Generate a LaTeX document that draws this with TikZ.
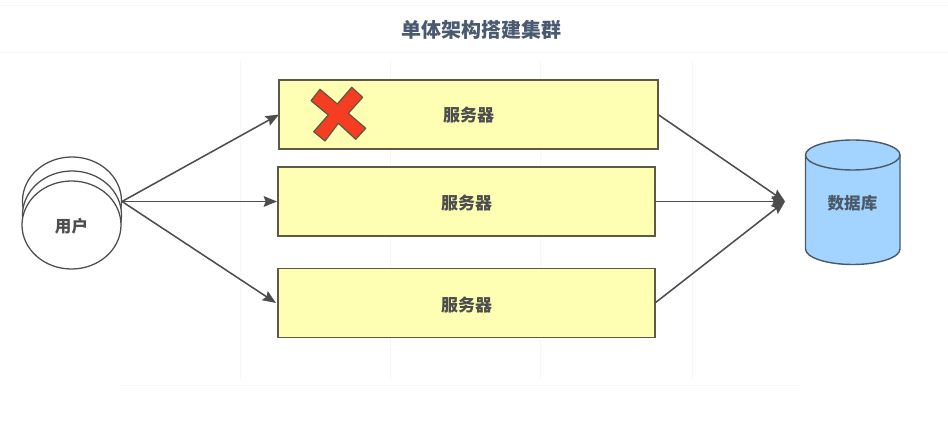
\documentclass[tikz,border=0pt]{standalone}
\usepackage{fontspec}
\setmainfont{Noto Sans CJK SC}
\usetikzlibrary{arrows.meta,shapes.geometric}
\definecolor{edgec}{HTML}{4D4D4D}
\definecolor{boxc}{HTML}{FFFFB3}
\definecolor{boxl}{HTML}{5C5A45}
\definecolor{dbc}{HTML}{A3D3FF}
\definecolor{dbl}{HTML}{4A5A68}
\definecolor{redc}{HTML}{F53D22}
\definecolor{titlec}{HTML}{4A5A70}
\definecolor{faint}{HTML}{F7F7F7}
\tikzset{
  px/.style={x=0.75pt,y=-0.75pt},
  srv/.style={draw=boxl,fill=boxc,line width=1.1pt,minimum width=282.75pt,minimum height=51.75pt,inner sep=0pt,outer sep=0pt},
  srvtxt/.style={text=edgec,inner sep=0pt,font=\fontsize{12.75}{14}\selectfont\bfseries},
  conn/.style={draw=edgec,line width=1.15pt,-{Stealth[length=10pt,width=8pt,inset=1.5pt]}},
  usr/.style={draw=edgec,fill=white,line width=0.95pt,shape=ellipse,minimum width=74.25pt,minimum height=66pt,inner sep=0pt,outer sep=0pt},
  lbl/.style={font=\fontsize{12.4}{14}\selectfont\bfseries,inner sep=0pt},
  gridl/.style={draw=faint,line width=0.5pt}
}
\begin{document}
\begin{tikzpicture}[px]
\useasboundingbox (0,0) rectangle (948,423);
\fill[white] (0,0) rectangle (948,423);
\draw[gridl] (0,5) -- (948,5);
\draw[gridl] (0,52) -- (948,52);
\draw[gridl] (120,385) -- (800,385);
\draw[gridl] (240,60) -- (240,380);
\draw[gridl] (390,60) -- (390,380);
\draw[gridl] (540,60) -- (540,380);
\draw[gridl] (692,60) -- (692,380);
\node[text=titlec,font=\fontsize{15}{16}\selectfont\bfseries,inner sep=0pt] (title) at (481,29.5) {单体架构搭建集群};
% user stack
\node[usr] (u1) at (72,201) {};
\node[usr] (u2) at (72,215) {};
\node[usr] (u3) at (71.5,225) {};
\node[lbl,text=edgec] (utxt) at (71.5,226) {用户};
\coordinate (uout) at (122,201.5);
% servers
\node[srv,minimum width=284.25pt] (s1) at (468.5,114.5) {};
\node[srv] (s2) at (466.5,201.5) {};
\node[srv] (s3) at (466.5,303) {};
\node[srvtxt] (t1) at ([yshift=-0.75pt]s1.center) {服务器};
\node[srvtxt] (t2) at ([yshift=-1.5pt]s2.center) {服务器};
\node[srvtxt] (t3) at ([yshift=-1.5pt]s3.center) {服务器};
% cross
\draw[boxl,fill=redc,line width=0.9pt,line join=round]
  (320,89.3) -- (337.3,104) -- (351.7,87.3) -- (362.7,97.3) -- (348.3,113.3)
  -- (365.7,128.3) -- (355.7,139.3) -- (338.3,123.3) -- (325,141) -- (313.7,131.7)
  -- (328.3,115) -- (311,100.7) -- cycle;
% database
\draw[dbl,fill=dbc,line width=1.05pt] (805.5,155) -- (805.5,249) arc[start angle=180,end angle=0,x radius=47.25,y radius=15.5] -- (900,155);
\draw[dbl,fill=dbc,line width=1.05pt] (852.75,155) ellipse [x radius=47.25,y radius=15];
\node[lbl,text=dbl] (db) at (852.5,203) {数据库};
\coordinate (dbin) at (785,201.5);
% connectors
\draw[conn] (uout) -- (s1.west);
\draw[conn] (uout) -- ([xshift=-0.75pt]s2.west);
\draw[conn] (uout) -- ([xshift=-1.5pt]s3.west);
\draw[conn] (s1.east) -- (dbin);
\draw[conn] (s2.east) -- (dbin);
\draw[conn] (s3.east) -- (dbin);
\end{tikzpicture}
\end{document}
